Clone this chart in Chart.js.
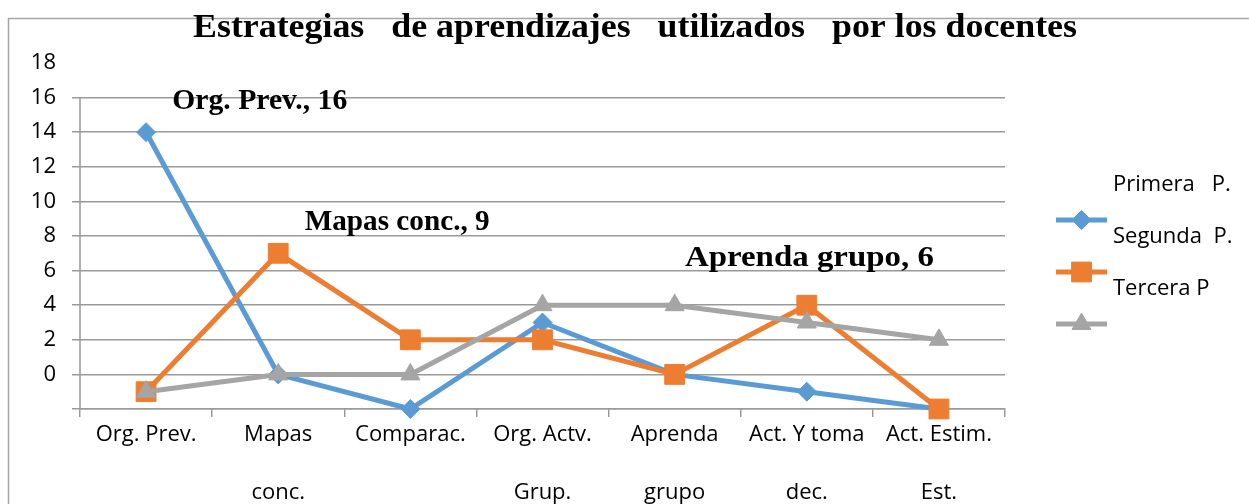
<!DOCTYPE html>
<html>
<head>
<meta charset="utf-8">
<script src="https://cdn.jsdelivr.net/npm/chart.js@4/dist/chart.umd.min.js"></script>
<style>
    body { margin: 0; background: #fff; }
    canvas { display: block; }
</style>
</head>
<body>
<canvas id="chart" width="1249" height="504"></canvas>
<script>
// categories (two lines each, the second line hangs far below)
const catTop = ["Org. Prev.", "Mapas", "Comparac.", "Org. Actv.", "Aprenda", "Act. Y toma", "Act. Estim."];
const catBottom = ["", "conc.", "", "Grup.", "grupo", "dec.", "Est."];

const seriesNames = ["Primera   P.", "Segunda  P.", "Tercera P"];
const primera = [14, 0, -2, 3, 0, -1, -2];
const segunda = [-1, 7, 2, 2, 0, 4, -2];
const tercera = [-1, 0, 0, 4, 4, 3, 2];

const yTicks = [-2, 0, 2, 4, 6, 8, 10, 12, 14, 16, 18];

const titleText = "Estrategias   de aprendizajes   utilizados   por los docentes";
const noteLabels = ["Org. Prev., 16", "Mapas conc., 9", "Aprenda grupo, 6"];

const BLUE = '#5B9BD5';
const ORANGE = '#ED7D31';
const GRAY = '#A5A5A5';
const GRID = '#999999';
const SANS = "'Open Sans', sans-serif";
const SERIF = "'Liberation Serif', 'DejaVu Serif', serif";

const labels = catTop.map((t, i) => [t, catBottom[i]]);

// centred text squeezed/stretched sideways to a given width
function fitText(ctx, txt, cx, cy, width) {
    const w = ctx.measureText(txt).width;
    const sx = width ? width / w : 1;
    ctx.save();
    ctx.translate(cx, cy);
    ctx.scale(sx, 1);
    ctx.fillText(txt, 0, 0);
    ctx.restore();
}

//draws the frame, title, notes and the odd offset legend of the original
const extras = {
    id: 'extras',
    beforeDraw(chart) {
        const ctx = chart.ctx;
        ctx.save();
        ctx.strokeStyle = '#a6a6a6';
        ctx.lineWidth = 1.5;
        ctx.beginPath();
        ctx.moveTo(8.5, chart.height);
        ctx.lineTo(8.5, 18.5);
        ctx.lineTo(chart.width, 18.5);
        ctx.stroke();
        ctx.restore();
    },
    afterDraw(chart, args, opts) {
        const ctx = chart.ctx;
        const x = chart.scales.x;
        const y = chart.scales.y;
        ctx.save();

        // vertical axis line only spans the gridded part
        ctx.strokeStyle = GRID;
        ctx.lineWidth = 1.5;
        ctx.beginPath();
        ctx.moveTo(chart.chartArea.left, y.getPixelForValue(16));
        ctx.lineTo(chart.chartArea.left, y.getPixelForValue(-2));
        ctx.stroke();

        ctx.fillStyle = '#000';
        ctx.font = "bold 34px " + SERIF;
        ctx.textAlign = 'center';
        ctx.textBaseline = 'alphabetic';
        fitText(ctx, titleText, opts.titleX, opts.titleY, opts.titleWidth);

        ctx.font = "bold 29px " + SERIF;
        noteLabels.forEach((txt, i) => {
            const p = opts.notePos[i];
            fitText(ctx, txt, x.getPixelForValue(p[0]), y.getPixelForValue(p[1]), opts.noteWidths[i]);
        });

        // legend: text sits a half row above its marker
        ctx.font = "22px " + SANS;
        ctx.textAlign = 'left';
        ctx.textBaseline = 'middle';
        chart.data.datasets.forEach((ds, i) => {
            const rowY = opts.legendY + i * opts.legendStep;
            ctx.fillStyle = '#000';
            ctx.fillText(ds.label, opts.legendTextX, rowY + opts.legendTextDy);

            ctx.strokeStyle = ds.borderColor;
            ctx.lineWidth = 5;
            ctx.beginPath();
            ctx.moveTo(opts.legendX, rowY);
            ctx.lineTo(opts.legendX + opts.legendLen, rowY);
            ctx.stroke();

            ctx.fillStyle = ds.pointBackgroundColor;
            ctx.strokeStyle = ds.pointBorderColor;
            ctx.lineWidth = 1;
            Chart.helpers.drawPoint(ctx, {
                pointStyle: ds.pointStyle,
                radius: ds.pointRadius,
                borderWidth: 1,
                rotation: 0
            }, opts.legendX + opts.legendLen / 2, rowY);
        });

        ctx.restore();
    }
};

function makeSeries(name, values, color, style, radius, order) {
    return {
        label: name,
        data: values,
        borderColor: color,
        backgroundColor: color,
        pointBackgroundColor: color,
        pointBorderColor: color,
        borderWidth: 5,
        pointStyle: style,
        pointRadius: radius,
        pointHoverRadius: radius,
        pointBorderWidth: 1,
        tension: 0,
        clip: false,
        order: order
    };
}

const chart = new Chart(document.getElementById('chart').getContext('2d'), {
    type: 'line',
    data: {
        labels: labels,
        datasets: [
            makeSeries(seriesNames[0], primera, BLUE, 'rectRot', 9.5, 3),
            makeSeries(seriesNames[1], segunda, ORANGE, 'rect', 14, 2),
            makeSeries(seriesNames[2], tercera, GRAY, 'triangle', 11, 1)
        ]
    },
    plugins: [extras],
    options: {
        responsive: false,
        animation: false,
        events: [],
        layout: {
            padding: { top: 63, right: 244, bottom: 0, left: 0 }
        },
        scales: {
            x: {
                offset: true,
                grid: {
                    offset: true,
                    drawOnChartArea: false,
                    drawTicks: true,
                    tickLength: 8,
                    color: GRID,
                    lineWidth: 1.5
                },
                border: { display: true, color: GRID, width: 1.5 },
                ticks: {
                    autoSkip: false,
                    maxRotation: 0,
                    minRotation: 0,
                    padding: -11,
                    color: '#000',
                    font: { family: SANS, size: 22, lineHeight: 58 / 22 }
                },
                afterFit: scale => { scale.height = 95; }
            },
            y: {
                min: -2,
                max: 18,
                afterBuildTicks: scale => {
                    scale.ticks = yTicks.map(v => ({ value: v }));
                },
                grid: {
                    color: c => (c.tick && c.tick.value === 18) ? 'rgba(0,0,0,0)' : GRID,
                    lineWidth: 1.5,
                    tickLength: 8
                },
                border: { display: false },
                ticks: {
                    padding: 16,
                    color: '#000',
                    font: { family: SANS, size: 22 },
                    callback: v => v === -2 ? '' : v
                },
                afterFit: scale => { scale.width = 80; }
            }
        },
        plugins: {
            legend: { display: false },
            title: { display: false },
            tooltip: { enabled: false },
            extras: {
                titleX: 635,
                titleY: 37,
                titleWidth: 884,
                notePos: [[0.86, 15.36], [1.9, 8.35], [5.02, 6.26]],
                noteWidths: [175, 185, 249],
                legendX: 1056,
                legendLen: 51,
                legendY: 220,
                legendStep: 52,
                legendTextX: 1113,
                legendTextDy: -35
            }
        }
    }
});
</script>
</body>
</html>
